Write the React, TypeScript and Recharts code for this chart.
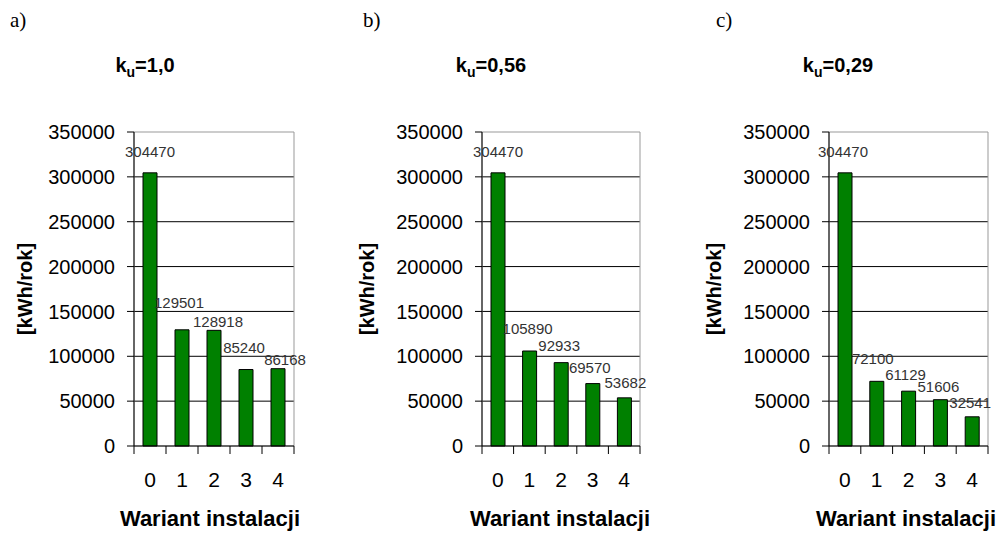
import React from 'react';
import {
  BarChart,
  Bar,
  XAxis,
  YAxis,
  CartesianGrid,
  ReferenceArea,
  LabelList
} from 'recharts';

// Roczne zapotrzebowanie energii dla wariantów instalacji, przy różnych k_u
const variants = ['0', '1', '2', '3', '4'];
const energyKu10 = [304470, 129501, 128918, 85240, 86168];
const energyKu056 = [304470, 105890, 92933, 69570, 53682];
const energyKu029 = [304470, 72100, 61129, 51606, 32541];
const yTicks = [0, 50000, 100000, 150000, 200000, 250000, 300000, 350000];
const panelLetters = ['a)', 'b)', 'c)'];
const kuValues = ['1,0', '0,56', '0,29'];
const yTitle = '[kWh/rok]';
const xTitle = 'Wariant instalacji';

const series = [energyKu10, energyKu056, energyKu029];

const FONT = '"Liberation Sans", Arial, sans-serif';
const H = 534;
const PLOT_TOP = 132;
const AXIS_Y = 446;
const X_AXIS_H = H - AXIS_Y;
const GREEN = '#008000';

// placement of the three charts on the page; lift/shift nudge the value labels
// so that neighbouring labels don't collide
const layouts = [
  {
    left: 0, width: 312, plotLeft: 134, plotRight: 294,
    letterX: 10, titleX: 145, yTitleX: 25, xTitleX: 210,
    lift: [21, 27, 8, 22, 9], shift: [0, -3, 4, -2, 7],
  },
  {
    left: 340, width: 322, plotLeft: 142, plotRight: 300,
    letterX: 23, titleX: 151, yTitleX: 27, xTitleX: 220,
    lift: [21, 22, 17, 16, 15], shift: [0, -2, -2, -3, 1],
  },
  {
    left: 690, width: 317, plotLeft: 139, plotRight: 298,
    letterX: 26, titleX: 148, yTitleX: 24, xTitleX: 216,
    lift: [21, 22, 16, 13, 14], shift: [-2, -4, -3, -2, -2],
  },
];

const XTick = (props: any) => {
  const { x, payload, index, band } = props;
  const half = band / 2;
  return (
    <g>
      <line x1={x - half} x2={x - half} y1={AXIS_Y} y2={AXIS_Y + 8} stroke="#000" />
      {index === variants.length - 1 && (
        <line x1={x + half} x2={x + half} y1={AXIS_Y} y2={AXIS_Y + 8} stroke="#000" />
      )}
      <text x={x} y={AXIS_Y + 41} textAnchor="middle" fontSize={21} fontFamily={FONT} fill="#000">
        {payload.value}
      </text>
    </g>
  );
};

const ValueLabel = (props: any) => {
  const { x, y, width, value, index, lift, shift } = props;
  return (
    <text
      x={x + width / 2 + shift[index]}
      y={y - lift[index] + 5}
      textAnchor="middle"
      fontSize={15}
      fontFamily={FONT}
      fill="#333"
    >
      {value}
    </text>
  );
};

const Panel = ({ idx }: { idx: number }) => {
  const l = layouts[idx];
  const rows = variants.map((v, i) => ({ variant: v, value: series[idx][i] }));
  const band = (l.plotRight - l.plotLeft) / variants.length;
  const yMid = (PLOT_TOP + AXIS_Y) / 2;
  return (
    <div style={{ position: 'absolute', left: l.left, top: 0, width: l.width, height: H }}>
      <BarChart
        width={l.width}
        height={H}
        data={rows}
        margin={{ top: PLOT_TOP, right: l.width - l.plotRight, bottom: 0, left: 0 }}
        barCategoryGap={0}
      >
        <CartesianGrid
          horizontal
          vertical={false}
          stroke="#000"
          horizontalValues={yTicks.slice(1, -1)}
        />
        <ReferenceArea y1={0} y2={350000} fill="none" stroke="#999" strokeWidth={1} />
        <XAxis
          dataKey="variant"
          height={X_AXIS_H}
          axisLine={{ stroke: '#000' }}
          tickLine={false}
          interval={0}
          tick={(p: any) => <XTick {...p} band={band} />}
        />
        <YAxis
          width={l.plotLeft}
          domain={[0, 350000]}
          ticks={yTicks}
          interval={0}
          axisLine={{ stroke: '#000' }}
          tickLine={{ stroke: '#000' }}
          tickSize={7}
          tickMargin={12}
          tick={{ fill: '#000', fontSize: 20, fontFamily: FONT }}
        />
        <Bar dataKey="value" fill={GREEN} stroke="#000" strokeWidth={1} barSize={14} isAnimationActive={false}>
          <LabelList
            dataKey="value"
            content={(p: any) => <ValueLabel {...p} lift={l.lift} shift={l.shift} />}
          />
        </Bar>
      </BarChart>
      <svg
        width={l.width}
        height={H}
        style={{ position: 'absolute', left: 0, top: 0, pointerEvents: 'none' }}
      >
        <text x={l.letterX} y={27} fontSize={21} fontFamily='"Liberation Serif", "DejaVu Serif", serif' fill="#000">
          {panelLetters[idx]}
        </text>
        <text x={l.titleX} y={72} textAnchor="middle" fontSize={20} fontWeight="bold" fontFamily={FONT} fill="#000">
          <tspan>k</tspan>
          <tspan fontSize={14} dy={5}>u</tspan>
          <tspan dy={-5}>={kuValues[idx]}</tspan>
        </text>
        <text
          x={l.yTitleX}
          y={yMid}
          transform={`rotate(-90 ${l.yTitleX} ${yMid})`}
          textAnchor="middle"
          dominantBaseline="central"
          fontSize={20}
          fontWeight="bold"
          fontFamily={FONT}
          fill="#000"
        >
          {yTitle}
        </text>
        <text x={l.xTitleX} y={526} textAnchor="middle" fontSize={22} fontWeight="bold" fontFamily={FONT} fill="#000">
          {xTitle}
        </text>
      </svg>
    </div>
  );
};

export default function App() {
  return (
    <div style={{ position: 'absolute', left: 0, top: 0, width: 1007, height: H, background: '#fff' }}>
      {layouts.map((_, i) => (
        <Panel key={i} idx={i} />
      ))}
    </div>
  );
}
